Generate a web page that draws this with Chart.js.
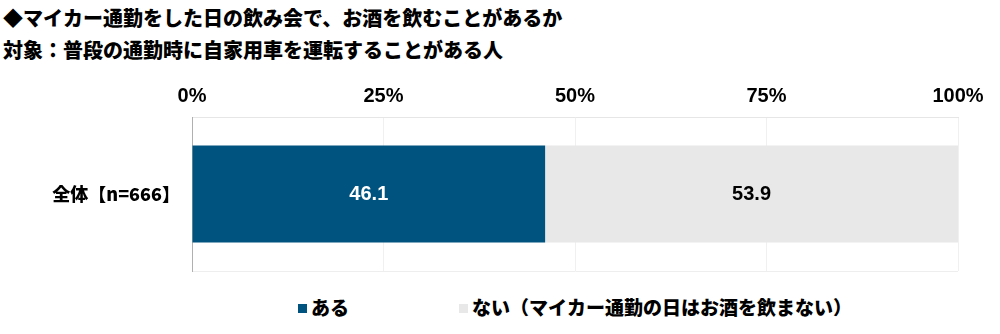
<!DOCTYPE html>
<html>
<head>
<meta charset="utf-8">
<script src="https://cdn.jsdelivr.net/npm/chart.js@4"></script>
<style>
  body { margin: 0; width: 1000px; height: 334px; background: #fff; position: relative; overflow: hidden;
         font-family: "Noto Sans CJK JP", "Liberation Sans", sans-serif; }
  .title { position: absolute; left: 3px; font-weight: 900; font-size: 20px; color: #000; white-space: nowrap; line-height: 1; }
  #barChart { position: absolute; left: 0; top: 70px; }
  #customLegend { position: absolute; top: 294px; left: 0; width: 1000px; height: 26px; }
  .legend-item { position: absolute; top: 0; font-weight: 900; font-size: 19px; line-height: 26px; white-space: nowrap; }
  .legend-item span.box { display: inline-block; width: 9px; height: 9px; margin-right: 4px; vertical-align: 2px; }
</style>
</head>
<body>
<div class="title" style="top:8px">◆マイカー通勤をした日の飲み会で、お酒を飲むことがあるか</div>
<div class="title" style="top:40px">対象：普段の通勤時に自家用車を運転することがある人</div>
<canvas id="barChart" width="1000" height="210"></canvas>
<div id="customLegend"></div>

<script>
// ラベルとデータ
const categories = ['全体【n=666】'];
const seriesNames = ['ある', 'ない（マイカー通勤の日はお酒を飲まない）'];
const valuesYes = [46.1];
const valuesNo = [53.9];
const tickLabels = ['0%', '25%', '50%', '75%', '100%'];

const barColors = ['#00527F', '#E8E8E8'];
const labelColors = ['#FFFFFF', '#000000'];
const legendLeft = [298, 459];

const numFont = { family: 'Liberation Sans, Arial, sans-serif', size: 20, weight: 'bold' };

// バーの中央に数値を表示
const valueLabels = {
    id: 'valueLabels',
    afterDatasetsDraw(chart) {
        const ctx = chart.ctx;
        ctx.save();
        ctx.font = `bold ${numFont.size}px ${numFont.family}`;
        ctx.textAlign = 'center';
        ctx.textBaseline = 'middle';
        chart.data.datasets.forEach((ds, i) => {
            chart.getDatasetMeta(i).data.forEach((bar, j) => {
                const left = Math.min(bar.x, bar.base);
                const right = Math.max(bar.x, bar.base);
                ctx.fillStyle = labelColors[i];
                ctx.fillText(ds.data[j].toFixed(1), (left + right) / 2, bar.y);
            });
        });
        ctx.restore();
    }
};

const chart = new Chart(document.getElementById('barChart'), {
    type: 'bar',
    data: {
        labels: categories,
        datasets: [
            { label: seriesNames[0], data: valuesYes, backgroundColor: barColors[0] },
            { label: seriesNames[1], data: valuesNo, backgroundColor: barColors[1] }
        ]
    },
    options: {
        indexAxis: 'y',
        responsive: false,
        animation: false,
        layout: { padding: { right: 42, bottom: 9, left: 0, top: 0 } },
        datasets: { bar: { barPercentage: 0.63, categoryPercentage: 1.0 } },
        plugins: { legend: { display: false }, tooltip: { enabled: false } },
        scales: {
            x: {
                position: 'top',
                stacked: true,
                min: 0,
                max: 100,
                afterFit: s => { s.height = 47; },
                afterBuildTicks: s => { s.ticks = tickLabels.map((t, i) => ({ value: i * 25 })); },
                grid: { color: '#F0F0F0', drawTicks: false },
                border: { color: '#E6E6E6' },
                ticks: {
                    color: '#000',
                    font: numFont,
                    padding: 9,
                    callback: (v, i) => tickLabels[i]
                }
            },
            y: {
                stacked: true,
                afterFit: s => { s.width = 192; s.paddingTop = 0; s.paddingBottom = 0; },
                grid: { color: '#EEEEEE', drawTicks: false },
                border: { color: '#B0B0B0' },
                ticks: {
                    color: '#000',
                    padding: 12,
                    font: { family: 'Noto Sans CJK JP, sans-serif', size: 18, weight: '900' }
                }
            }
        }
    },
    plugins: [valueLabels]
});

// 凡例を自前で作る
function generateCustomLegend(chart) {
    const box = document.getElementById('customLegend');
    box.innerHTML = '';
    chart.data.datasets.forEach((ds, i) => {
        const item = document.createElement('div');
        item.className = 'legend-item';
        item.style.left = legendLeft[i] + 'px';
        const sq = document.createElement('span');
        sq.className = 'box';
        sq.style.backgroundColor = ds.backgroundColor;
        item.appendChild(sq);
        item.appendChild(document.createTextNode(ds.label));
        box.appendChild(item);
    });
}
generateCustomLegend(chart);
</script>
</body>
</html>
